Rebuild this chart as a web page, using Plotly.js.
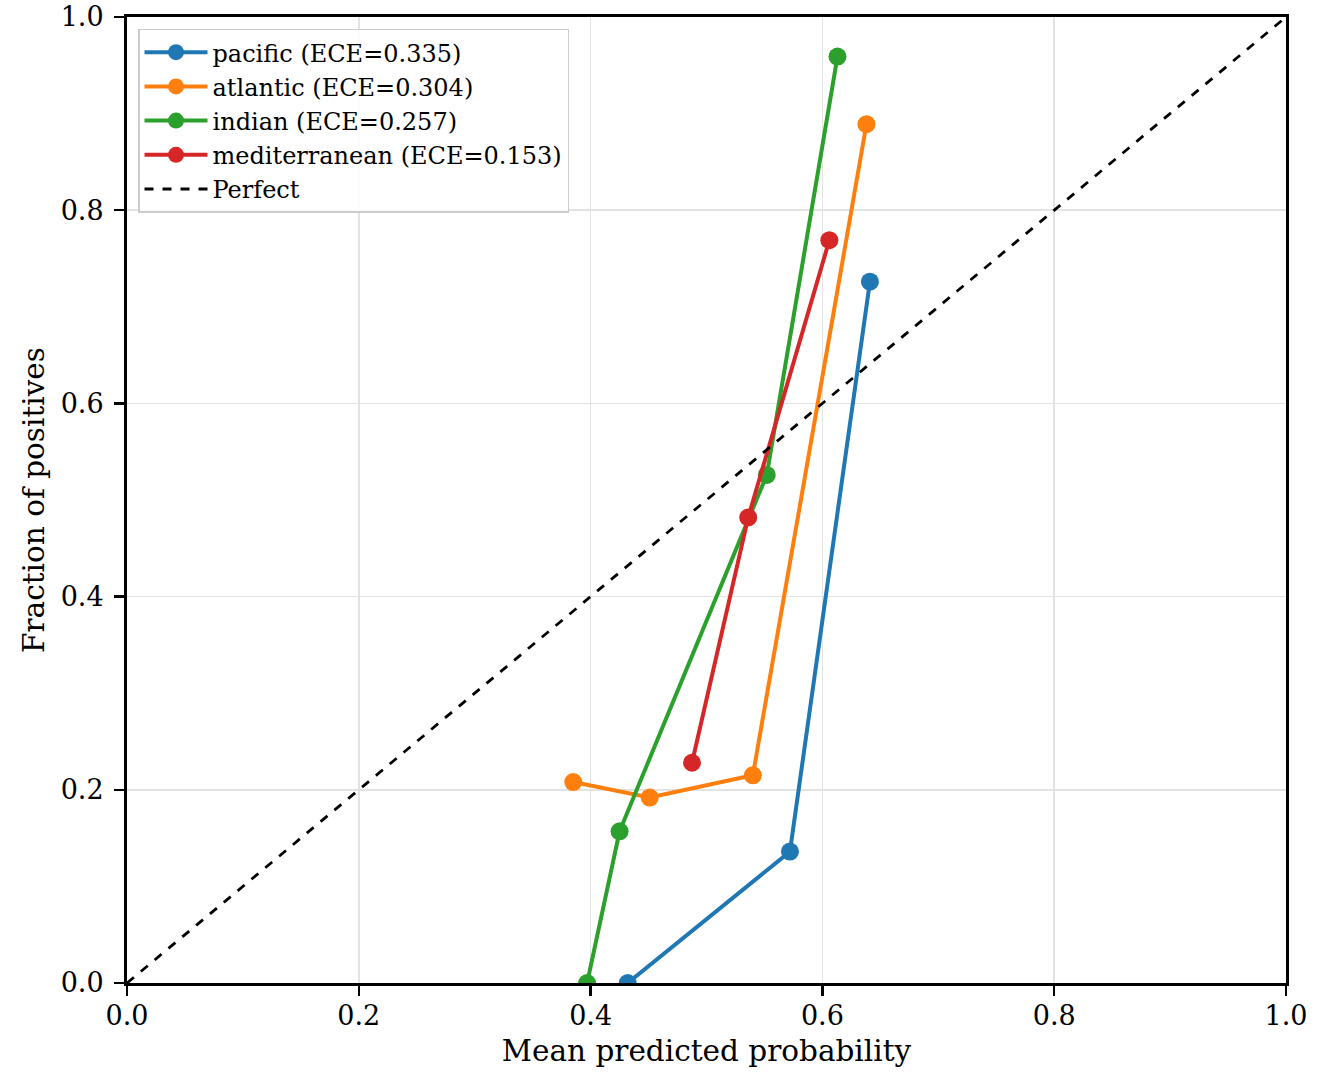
<!DOCTYPE html>
<html>
<head>
<meta charset="utf-8">
<script src="https://cdn.plot.ly/plotly-3.0.1.min.js"></script>
<style>html,body{margin:0;padding:0;background:#fff;}#chart{width:1321px;height:1089px;}</style>
</head>
<body>
<div id="chart"></div>
<script>
const seriesNames = ["pacific (ECE=0.335)", "atlantic (ECE=0.304)", "indian (ECE=0.257)", "mediterranean (ECE=0.153)"];
const pacificX = [0.432, 0.572, 0.641];
const pacificY = [0.000, 0.136, 0.726];
const atlanticX = [0.385, 0.451, 0.540, 0.638];
const atlanticY = [0.208, 0.192, 0.215, 0.889];
const indianX = [0.397, 0.425, 0.552, 0.613];
const indianY = [0.000, 0.157, 0.526, 0.959];
const medX = [0.4875, 0.536, 0.606];
const medY = [0.228, 0.482, 0.769];
const perfectX = [0, 1];
const perfectY = [0, 1];
const colors = ["#1f77b4", "#ff7f0e", "#2ca02c", "#d62728"];

const xs = [pacificX, atlanticX, indianX, medX];
const ys = [pacificY, atlanticY, indianY, medY];
const traces = xs.map((x, i) => ({
  x: x, y: ys[i], name: seriesNames[i], type: "scatter", mode: "lines+markers",
  line: {color: colors[i], width: 4},
  marker: {color: colors[i], size: 18}
}));
traces.push({x: perfectX, y: perfectY, name: "Perfect", type: "scatter", mode: "lines",
  line: {color: "#000", width: 2.8, dash: "dash"}});

const font = {family: "DejaVu Serif", color: "#000"};
const axisCommon = {
  range: [0, 1], dtick: 0.2, tick0: 0, tickformat: ".1f",
  showgrid: true, gridcolor: "#e3e3e3", gridwidth: 1.5,
  showline: true, linecolor: "#000", linewidth: 3, mirror: true,
  ticks: "outside", ticklen: 10, tickwidth: 2.5, tickcolor: "#000",
  zeroline: false, tickfont: {family: "DejaVu Serif", size: 27, color: "#000"}
};
const layout = {
  width: 1321, height: 1089,
  margin: {l: 127, r: 35, t: 17, b: 106},
  paper_bgcolor: "#fff", plot_bgcolor: "#fff",
  font: font,
  showlegend: true,
  xaxis: Object.assign({}, axisCommon, {ticklabelstandoff: -3, title: {text: "Mean predicted probability", font: {family: "DejaVu Serif", size: 29.5, color: "#000"}, standoff: 10}}),
  yaxis: Object.assign({}, axisCommon, {ticklabelstandoff: 5, title: {text: "Fraction of positives", font: {family: "DejaVu Serif", size: 29.5, color: "#000"}, standoff: 8}}),
  legend: {
    x: 0.0095, y: 0.988, xanchor: "left", yanchor: "top",
    bgcolor: "rgba(255,255,255,0.85)", bordercolor: "#cccccc", borderwidth: 1.5,
    font: {family: "DejaVu Serif", size: 24, color: "#000"},
    itemwidth: 63, tracegroupgap: 0
  }
};
Plotly.newPlot("chart", traces, layout, {displayModeBar: false, staticPlot: true});
</script>
</body>
</html>
